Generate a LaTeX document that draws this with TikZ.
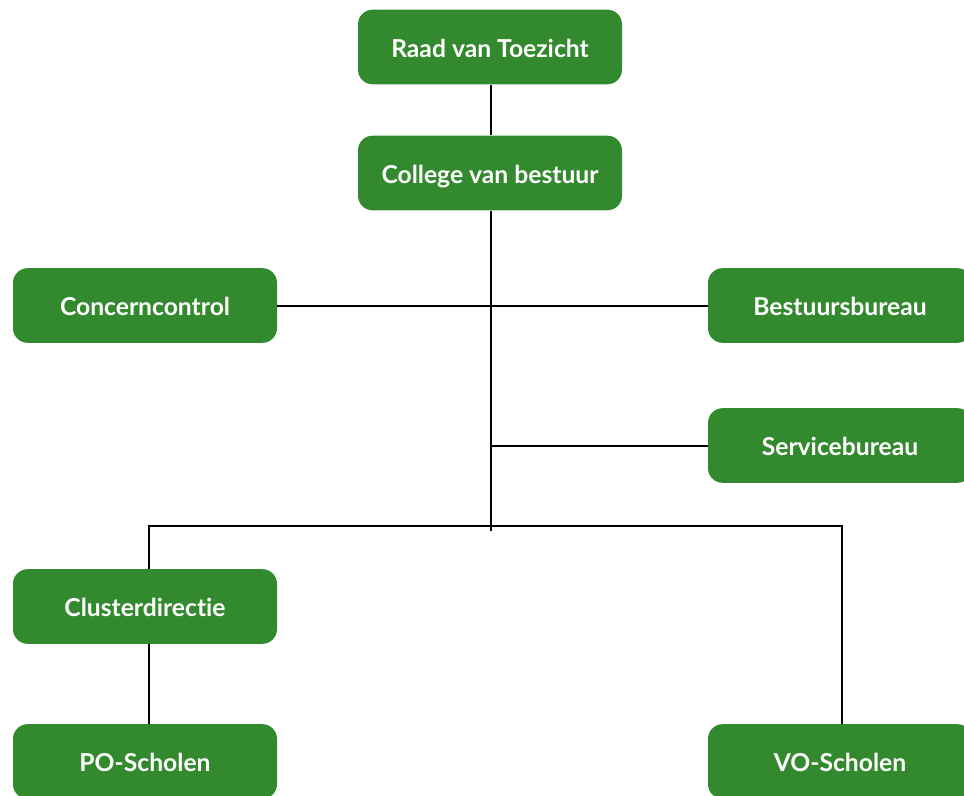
\documentclass[tikz,border=0pt]{standalone}
\usepackage{fontspec}
\setmainfont{Lato}[Ligatures=NoCommon]
\definecolor{boxgreen}{HTML}{338A2E}
\begin{document}
\begin{tikzpicture}[x=0.75pt,y=-0.75pt,
  orgbox/.style={fill=boxgreen, rounded corners=11pt, minimum width=198pt, minimum height=56pt, inner sep=0pt,
    text height=16pt, text depth=0.5pt,
    text=white, font=\bfseries\fontsize{18.5}{21}\selectfont},
  link/.style={draw=black, line width=1.5pt}]
\useasboundingbox (0,0) rectangle (964,796);
\begin{scope}
\clip (0,0) rectangle (964,796);
\node[orgbox] (rvt) at (490,47) {Raad van Toezicht};
\node[orgbox] (cvb) at (490,173) {College van bestuur};
\node[orgbox] (cc) at (145,305.5) {Concerncontrol};
\node[orgbox] (bb) at (840,305.5) {Bestuursbureau};
\node[orgbox] (sb) at (840,445.5) {Servicebureau};
\node[orgbox] (cd) at (145,606.5) {Clusterdirectie};
\node[orgbox] (po) at (145,761.5) {PO-Scholen};
\node[orgbox] (vo) at (840,761.5) {VO-Scholen};
\coordinate (spine) at (491,531);
\coordinate (barL) at (149,526);
\coordinate (barR) at (842,526);
\coordinate (sbj) at (491,446);
\end{scope}
\draw[link] (rvt.south -| 491,0) -- (cvb.north -| 491,0);
\draw[link] (cvb.south -| 491,0) -- (spine);
\draw[link] (cc.east) -- (bb.west);
\draw[link] (sbj) -- (sbj -| sb.west);
\draw[link] (barL |- cd.north) -- (barL) -- (barR) -- (barR |- vo.north);
\draw[link] (barL |- cd.south) -- (barL |- po.north);
\end{tikzpicture}
\end{document}
